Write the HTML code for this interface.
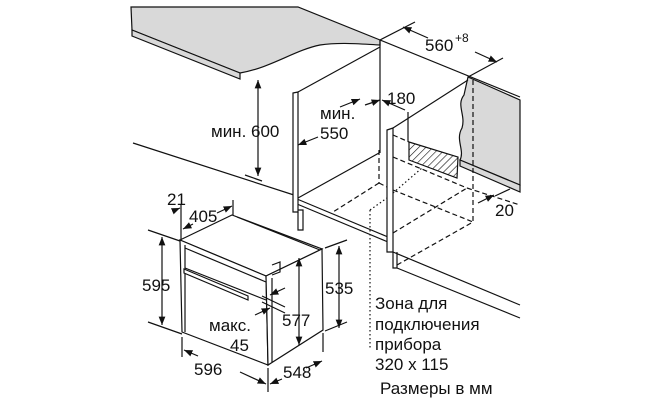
<!DOCTYPE html>
<html><head><meta charset="utf-8"><style>
html,body{margin:0;padding:0;background:#fff;width:650px;height:400px;overflow:hidden}
svg text{font-family:"Liberation Sans",sans-serif;font-size:17px;fill:#111}
</style></head><body>
<svg width="650" height="400" viewBox="0 0 650 400" xmlns="http://www.w3.org/2000/svg">
<defs>
<marker id="a" viewBox="0 0 10 10" refX="10" refY="5" markerWidth="7" markerHeight="7" orient="auto-start-reverse"><path d="M0,1 L10,5 L0,9 z" fill="#111"/></marker>
<pattern id="h" width="5" height="5" patternUnits="userSpaceOnUse" patternTransform="rotate(45)"><rect width="5" height="5" fill="#fff"/><line x1="0" y1="0" x2="0" y2="5" stroke="#111" stroke-width="1.2"/></pattern>
</defs>
<g stroke="#111" stroke-width="1.2" fill="none">
<!-- left countertop -->
<path d="M131,7 L298,7 L380,40 L380,45 C360,44 340,42 320,45 C295,50 270,68 240,73 L132,30 Z" fill="#d9d9d9"/>
<path d="M132,30 L240,73 L240,79 L132,36 Z" fill="#d9d9d9"/>
<line x1="380" y1="40" x2="520" y2="97"/>
<!-- right countertop -->
<path d="M468,77 L520,100 L520,185 L460,160 C465,150 455,140 462,128 C466,115 456,105 464,95 Z" fill="#d9d9d9"/>
<path d="M460,160 L520,185 L520,192 L460,166 Z" fill="#d9d9d9"/>
<!-- left wall lines -->
<line x1="133" y1="143" x2="297" y2="196"/>
<line x1="297" y1="199" x2="388" y2="237"/>
<line x1="297" y1="204" x2="388" y2="242"/>
<!-- left cabinet side panel -->
<path d="M293,93 L298,92 L298,212 L293,212 Z" fill="#fff"/>
<line x1="298" y1="92" x2="380" y2="47"/>
<line x1="380" y1="40" x2="380" y2="153"/>
<line x1="298" y1="198" x2="379" y2="153"/>
<path d="M298,210 L303,210 L303,230 L298,230 L298,212"/>
<!-- right cabinet panel -->
<path d="M387,130 L393,128 L393,252 L387,252 Z" fill="#fff"/>
<line x1="393" y1="128" x2="468" y2="80"/>
<path d="M393,252 L393,268 L397,268 L397,252"/>
<line x1="397" y1="268" x2="520" y2="318"/>
<line x1="393" y1="252" x2="520" y2="305" />
<!-- hatched zone -->
<path d="M409,142 L458,157 L457,178 L409,160 Z" fill="url(#h)"/>
<!-- dashed niche -->
<g stroke-dasharray="5,3">
<line x1="473" y1="80" x2="473" y2="222"/>
<line x1="379" y1="150" x2="379" y2="183"/>
<line x1="379" y1="183" x2="333" y2="212"/>
<line x1="379" y1="183" x2="387" y2="187"/>
<line x1="393" y1="190" x2="473" y2="222"/>
<line x1="393" y1="233" x2="467" y2="188"/>
<line x1="397" y1="265" x2="473" y2="222"/>
<line x1="393" y1="157" x2="467" y2="188"/>
<line x1="393" y1="135" x2="409" y2="142"/>
<line x1="467" y1="188" x2="520" y2="205"/>
</g>
<g stroke-dasharray="1.5,2.5">
<line x1="370" y1="210" x2="370" y2="350"/>
<line x1="370" y1="210" x2="387" y2="198"/>
<line x1="393" y1="193" x2="422" y2="168"/>
</g>
<!-- oven -->
<path d="M180,240 L232,215 L322,249 L266,276 Z" fill="#fff"/>
<path d="M180,240 L266,276 L268,365 L182,332 Z" fill="#fff"/>
<path d="M266,276 L322,249 L323,330 L268,365 Z" fill="#fff"/>
<line x1="237" y1="217" x2="320" y2="250"/>
<line x1="185" y1="248" x2="266" y2="282"/>
<line x1="185" y1="268" x2="266" y2="300"/>
<line x1="185" y1="245" x2="185" y2="332"/>
<path d="M184,269 L248,296 L248,300 L184,273 Z" fill="#fff"/>
<path d="M272,265 L280,262 L280,272 L272,275"/>
<line x1="272" y1="278" x2="272" y2="362"/>
<!-- dims -->
<line x1="258" y1="80" x2="258" y2="176" marker-start="url(#a)" marker-end="url(#a)"/>
<line x1="245" y1="175" x2="262" y2="181"/>
<line x1="380" y1="40" x2="415" y2="22"/>
<line x1="468" y1="77" x2="503" y2="58"/>
<line x1="403" y1="27" x2="428" y2="38" marker-start="url(#a)"/>
<line x1="475" y1="52" x2="497" y2="62" marker-end="url(#a)"/>
<line x1="365" y1="105" x2="380" y2="100" marker-end="url(#a)"/>
<line x1="382" y1="100" x2="405" y2="110" marker-start="url(#a)"/>
<line x1="408" y1="112" x2="408" y2="142"/>
<line x1="340" y1="107" x2="360" y2="99" marker-end="url(#a)"/>
<line x1="318" y1="137" x2="298" y2="145" marker-end="url(#a)"/>
<line x1="478" y1="203" x2="494" y2="195" marker-end="url(#a)"/>
<line x1="495" y1="196" x2="510" y2="189"/>
<!-- oven dims -->
<line x1="162" y1="237" x2="162" y2="325" marker-start="url(#a)" marker-end="url(#a)"/>
<line x1="148" y1="230" x2="180" y2="241"/>
<line x1="148" y1="322" x2="182" y2="334"/>
<line x1="339" y1="246" x2="339" y2="328" marker-start="url(#a)" marker-end="url(#a)"/>
<line x1="325" y1="248" x2="347" y2="240"/>
<line x1="325" y1="331" x2="347" y2="322"/>
<line x1="299" y1="258" x2="299" y2="345" marker-start="url(#a)" marker-end="url(#a)"/>
<line x1="182" y1="337" x2="182" y2="357"/>
<line x1="268" y1="368" x2="268" y2="392"/>
<line x1="323" y1="333" x2="323" y2="352"/>
<line x1="184" y1="350" x2="198" y2="356" marker-start="url(#a)"/>
<line x1="240" y1="372" x2="266" y2="384" marker-end="url(#a)"/>
<line x1="270" y1="384" x2="282" y2="379" marker-start="url(#a)"/>
<line x1="306" y1="368" x2="322" y2="361" marker-end="url(#a)"/>
<line x1="181" y1="205" x2="181" y2="240"/>
<line x1="173" y1="211" x2="180" y2="208" marker-end="url(#a)"/>
<line x1="183" y1="229" x2="193" y2="224" marker-start="url(#a)"/>
<line x1="217" y1="213" x2="232" y2="206" marker-end="url(#a)"/>
<line x1="233" y1="200" x2="233" y2="215"/>
<line x1="262" y1="296" x2="285" y2="307"/>
<line x1="262" y1="302" x2="285" y2="313"/>
<line x1="270" y1="295" x2="285" y2="288" marker-start="url(#a)"/>
<line x1="255" y1="315" x2="270" y2="308" marker-end="url(#a)"/>
</g>
<g>
<text x="425" y="51">560</text><text x="455" y="42" style="font-size:12px">+8</text>
<text x="387" y="104">180</text>
<text x="320" y="119">мин.</text>
<text x="320" y="139">550</text>
<text x="211" y="137">мин. 600</text>
<text x="495" y="216">20</text>
<text x="167" y="205">21</text>
<text x="189" y="222">405</text>
<text x="142" y="291">595</text>
<text x="325" y="294">535</text>
<text x="282" y="326">577</text>
<text x="209" y="331">макс.</text>
<text x="230" y="351">45</text>
<text x="194" y="375">596</text>
<text x="283" y="378">548</text>
<text x="375" y="309">Зона для</text>
<text x="375" y="330">подключения</text>
<text x="375" y="350">прибора</text>
<text x="375" y="370">320 x 115</text>
<text x="380" y="394">Размеры в мм</text>
</g>
</svg>
</body></html>
